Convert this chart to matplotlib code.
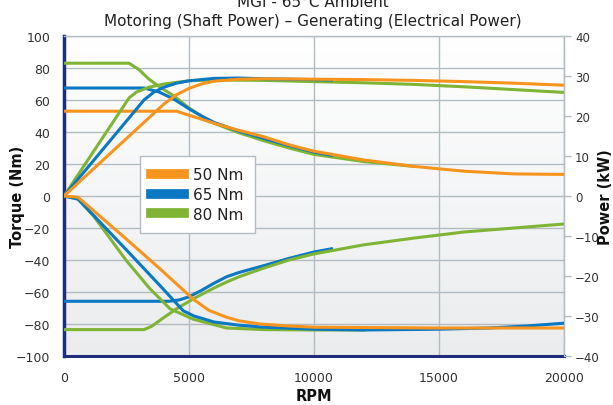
import numpy as np
import matplotlib
matplotlib.use("Agg")
import matplotlib.pyplot as plt
from matplotlib.colors import LinearSegmentedColormap
from matplotlib.lines import Line2D

plt.rcParams['font.family'] = ['DejaVu Sans']

# --- data (rpm, torque Nm / power kW) ---
series_names = ["50 Nm", "65 Nm", "80 Nm"]
series_colors = ["#f7941d", "#0a78c2", "#80b435"]

# motoring torque (left axis)
orange_mt_rpm = [0, 4500, 5000, 5500, 6000, 7000, 8000, 9000, 10000, 12000, 14000, 16000, 18000, 20000]
orange_mt = [53, 53, 50.5, 48, 45.5, 41, 37, 32, 28, 22.5, 18.5, 15.5, 13.8, 13.5]
blue_mt_rpm = [0, 3200, 3800, 4400, 5000, 5500, 6000, 7000, 8000, 9000, 10000, 10700]
blue_mt = [67.5, 67.5, 65, 60.5, 54.5, 50, 46, 40.5, 36, 31.5, 27.5, 25.5]
green_mt_rpm = [0, 2600, 3000, 3400, 3800, 4400, 5000, 5500, 6000, 7000, 8000, 9000, 10000, 12000, 14000]
green_mt = [83, 83, 79, 73, 68.5, 62.5, 55, 50, 45.5, 39.5, 34.5, 30, 26, 21.5, 18.5]

# motoring power (right axis)
orange_mp_rpm = [0, 4000, 4500, 5000, 5500, 6000, 7000, 8000, 10000, 12000, 14000, 16000, 18000, 20000]
orange_mp = [0, 23.0, 25.3, 26.9, 28.0, 28.7, 29.2, 29.3, 29.2, 29.1, 28.9, 28.6, 28.2, 27.7]
blue_mp_rpm = [0, 3200, 3600, 4000, 4500, 5000, 6000, 7000, 8000, 10000, 10700]
blue_mp = [0, 24.0, 26.0, 27.2, 28.2, 28.8, 29.4, 29.5, 29.3, 29.1, 29.0]
green_mp_rpm = [0, 2600, 2900, 3400, 4000, 5000, 6000, 8000, 10000, 12000, 14000, 16000, 18000, 20000]
green_mp = [0, 24.5, 26.0, 27.2, 28.0, 28.8, 29.0, 28.9, 28.6, 28.3, 27.9, 27.3, 26.6, 25.9]

# generating torque (left axis)
blue_gt_rpm = [0, 4200, 4600, 5000, 5500, 6000, 6500, 7000, 8000, 9000, 10000, 10700]
blue_gt = [-65.8, -65.8, -65, -63, -59, -54.5, -50.5, -47.8, -43.5, -39, -35, -33]
green_gt_rpm = [0, 3200, 3500, 3900, 4500, 5200, 6000, 6500, 7000, 8000, 9000, 10000,
                12000, 14000, 16000, 18000, 20000]
green_gt = [-83.5, -83.5, -81.5, -77, -70.5, -64, -57.5, -53.8, -50.5, -45, -40, -36.2,
            -30.5, -26.3, -22.5, -20, -17.5]

# generating power (right axis)
orange_gp_rpm = [0, 560, 2500, 3840, 5170, 5800, 6500, 7000, 7840, 9000, 10000, 15000, 20000]
orange_gp = [0, -0.3, -10.8, -18.2, -25.8, -28.6, -30.3, -31.2, -32.0, -32.5, -32.8, -33.0, -33.0]
blue_gp_rpm = [0, 300, 560, 2500, 3840, 4770, 5200, 6000, 7000, 8000, 10000, 12000, 15000,
               17000, 18500, 20000]
blue_gp = [0, -0.4, -0.75, -13.5, -22.4, -28.7, -30.0, -31.5, -32.3, -32.8, -33.3, -33.5,
           -33.3, -33.0, -32.5, -31.8]
green_gp_rpm = [0, 560, 1170, 2500, 3440, 4240, 5170, 6500, 8000, 10000, 12000]
green_gp = [0, -0.8, -4.9, -16.2, -23.2, -28.2, -30.8, -33.0, -33.4, -33.5, -33.5]

x_ticks = [0, 5000, 10000, 15000, 20000]
left_ticks = list(range(-100, 101, 20))
right_ticks = list(range(-40, 41, 10))

# --- figure ---
fig = plt.figure(figsize=(6.13, 4.06), dpi=100)
ax = fig.add_axes([64 / 613, 1 - 357 / 406, 500 / 613, 320 / 406])
ax2 = ax.twinx()

# soft vertical gradient behind the plot (white at top, light grey at bottom)
grad = np.linspace(0, 1, 256).reshape(-1, 1)
cmap = LinearSegmentedColormap.from_list("bg", ["#eaecee", "#ffffff"])
ax.imshow(grad, extent=[0, 20000, -100, 100], aspect='auto', cmap=cmap, zorder=0,
          origin='lower')
ax.set_xlim(0, 20000)
ax.set_ylim(-100, 100)
ax2.set_ylim(-40, 40)

grid_c = "#b3bcc1"
for t in left_ticks:
    ax.axhline(t, color=grid_c, lw=1.0, zorder=1)
for t in x_ticks[1:]:
    ax.axvline(t, color=grid_c, lw=1.0, zorder=1)

orange, blue, green = series_colors
lw = 2.2
ax.plot(green_mt_rpm, green_mt, color=green, lw=lw, zorder=3)
ax.plot(blue_mt_rpm, blue_mt, color=blue, lw=lw, zorder=3)
ax.plot(orange_mt_rpm, orange_mt, color=orange, lw=lw, zorder=4)
ax.plot(blue_gt_rpm, blue_gt, color=blue, lw=lw, zorder=3)
ax.plot(green_gt_rpm, green_gt, color=green, lw=lw, zorder=3)

ax2.plot(green_mp_rpm, green_mp, color=green, lw=lw, zorder=3)
ax2.plot(blue_mp_rpm, blue_mp, color=blue, lw=lw, zorder=3)
ax2.plot(orange_mp_rpm, orange_mp, color=orange, lw=lw, zorder=4)
ax2.plot(green_gp_rpm, green_gp, color=green, lw=lw, zorder=3)
ax2.plot(blue_gp_rpm, blue_gp, color=blue, lw=lw, zorder=3)
ax2.plot(orange_gp_rpm, orange_gp, color=orange, lw=lw, zorder=4)

# axes styling
txt_c = "#333333"
ax.set_xticks(x_ticks)
ax.set_xticklabels([str(t) for t in x_ticks])
ax.set_yticks(left_ticks)
ax.tick_params(axis='x', length=0, labelsize=9, colors=txt_c, pad=11)
ax.tick_params(axis='y', length=0, labelsize=9, colors=txt_c, pad=10)
ax2.set_yticks(right_ticks)
ax2.tick_params(axis='y', length=5, width=1, color=grid_c, labelsize=8.5,
                labelcolor=txt_c, pad=3)

navy = "#1f2d7b"
ax.spines['left'].set_color(navy)
ax.spines['left'].set_linewidth(2.5)
ax.spines['bottom'].set_color(navy)
ax.spines['bottom'].set_linewidth(2.2)
for s in ['top', 'right']:
    ax.spines[s].set_color(grid_c)
    ax.spines[s].set_linewidth(1.0)
ax2.spines['left'].set_visible(False)
ax2.spines['bottom'].set_visible(False)
ax2.spines['top'].set_visible(False)
ax2.spines['right'].set_color(grid_c)

lab_c = "#111111"
ax.set_xlabel("RPM", fontsize=10.5, fontweight='bold', color=lab_c, va='center')
ax.xaxis.set_label_coords(0.5, -(397 - 357) / 320)
ax.set_ylabel("Torque (Nm)", fontsize=10.5, fontweight='bold', color=lab_c, va='center')
ax.yaxis.set_label_coords(-(64 - 18) / 500, 0.5)
ax2.set_ylabel("Power (kW)", fontsize=10.5, fontweight='bold', color=lab_c,
               rotation=90, va='center')
ax2.yaxis.set_label_coords((605 - 64) / 500, 0.5)

fig.text(0.51, 1 - 7 / 406, "MGI - 65°C Ambient", ha='center', va='baseline',
         fontsize=11, color="#222222")
fig.text(0.51, 1 - 26 / 406, "Motoring (Shaft Power) \u2013 Generating (Electrical Power)",
         ha='center', va='baseline', fontsize=11, color="#222222")

handles = [Line2D([0], [0], color=c, lw=7) for c in series_colors]
leg = ax2.legend(handles, series_names, loc='lower left',
                 bbox_to_anchor=(0.152, 0.384), borderaxespad=0, fontsize=11,
                 frameon=True, fancybox=False, edgecolor=grid_c, framealpha=1,
                 handlelength=2.1, borderpad=0.75, labelspacing=0.3,
                 handletextpad=0.6)
leg.get_frame().set_linewidth(1.0)
for t in leg.get_texts():
    t.set_color("#222222")

fig.savefig("out.png", dpi=100)
